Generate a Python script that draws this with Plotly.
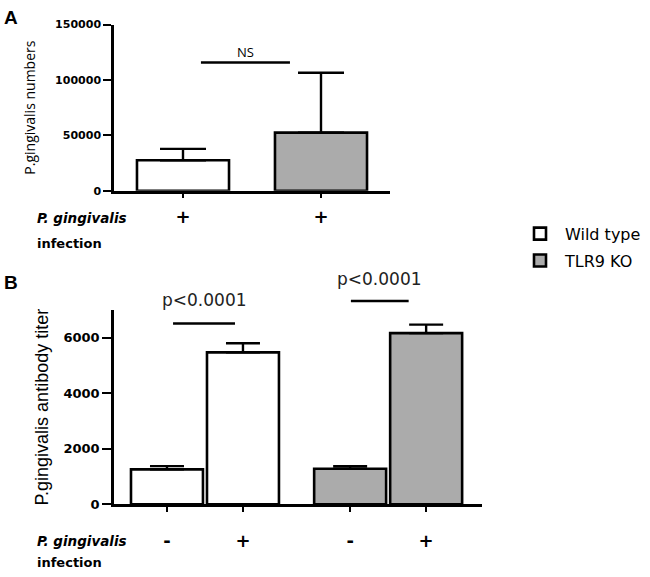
import plotly.graph_objects as go

# ---------------- data ----------------
# Panel A: P. gingivalis numbers
a_groups = ["Wild type", "TLR9 KO"]
a_values = [27500, 52400]
a_errors = [10300, 54100]
a_tick_labels = ["+", "+"]
a_yticks = [0, 50000, 100000, 150000]

# Panel B: antibody titer (infection -, +)
b_wt_values = [1258, 5479]
b_wt_errors = [118, 330]
b_ko_values = [1282, 6173]
b_ko_errors = [95, 306]
b_tick_labels = ["-", "+", "-", "+"]
b_yticks = [0, 2000, 4000, 6000]

# significance annotations (data coordinates)
a_sig = {"label": "NS", "x0": 0.13, "x1": 0.775, "y": 115800, "ty": 125500}
b_sig = [
    {"label": "p<0.0001", "x0": 0.08, "x1": 0.895, "y": 6515, "ty": 7350},
    {"label": "p<0.0001", "x0": 2.42, "x1": 3.18, "y": 7327, "ty": 8140},
]

# ---------------- style ----------------
W, H = 650, 577
GRAY = "#ababab"
EDGE = 2.6
group_gap = 2.41
a_x = [0, 1]
b_wt_x = [0, 1]
b_ko_x = [group_gap, group_gap + 1]

def px_x(p):
    return p / W

def px_y(p):
    return (H - p) / H

A_XDOM = [px_x(114), px_x(390)]
A_YDOM = [px_y(189.3), px_y(19)]
A_XR = [-0.5, 1.5]
A_YR = [0, 150000]
B_XDOM = [px_x(114), px_x(482)]
B_YDOM = [px_y(510.7), px_y(311.7)]
B_XR = [-0.697, 4.145]
B_YR = [0, 7000]

def to_paper(v, dom, rng):
    return dom[0] + (v - rng[0]) / (rng[1] - rng[0]) * (dom[1] - dom[0])

fig = go.Figure()

def err(arr, w):
    return dict(type="data", symmetric=False, array=arr, arrayminus=[0] * len(arr),
                color="black", thickness=2.4, width=w)

# Panel A bars
fig.add_trace(go.Bar(x=[a_x[0]], y=[a_values[0]], error_y=err([a_errors[0]], 23),
                     width=0.667, marker=dict(color="white", line=dict(color="black", width=EDGE)),
                     name=a_groups[0], legendgroup="wt", xaxis="x", yaxis="y"))
fig.add_trace(go.Bar(x=[a_x[1]], y=[a_values[1]], error_y=err([a_errors[1]], 23),
                     width=0.667, marker=dict(color=GRAY, line=dict(color="black", width=EDGE)),
                     name=a_groups[1], legendgroup="ko", xaxis="x", yaxis="y"))
# Panel B bars
fig.add_trace(go.Bar(x=b_wt_x, y=b_wt_values, error_y=err(b_wt_errors, 17),
                     width=0.947, marker=dict(color="white", line=dict(color="black", width=EDGE)),
                     name=a_groups[0], legendgroup="wt", showlegend=False, xaxis="x2", yaxis="y2"))
fig.add_trace(go.Bar(x=b_ko_x, y=b_ko_values, error_y=err(b_ko_errors, 17),
                     width=0.947, marker=dict(color=GRAY, line=dict(color="black", width=EDGE)),
                     name=a_groups[1], legendgroup="ko", showlegend=False, xaxis="x2", yaxis="y2"))

bold_tick = dict(family="DejaVu Sans", weight="bold", color="black")
axis_common = dict(showline=True, linecolor="black", linewidth=2.5, showgrid=False,
                   zeroline=False, ticks="outside", tickcolor="black", tickwidth=2)

fig.update_layout(
    width=W, height=H,
    margin=dict(l=0, r=0, t=0, b=0),
    paper_bgcolor="white", plot_bgcolor="white",
    barmode="overlay",
    xaxis=dict(domain=A_XDOM, anchor="y", range=A_XR,
               tickvals=a_x, ticktext=a_tick_labels, ticklen=5,
               tickfont=dict(bold_tick, size=18), ticklabelstandoff=3, **axis_common),
    yaxis=dict(domain=A_YDOM, anchor="x", range=A_YR, tickformat="d",
               tickvals=a_yticks, ticklen=8, tickfont=dict(bold_tick, size=11),
               title=dict(text="P.gingivalis numbers", standoff=17,
                          font=dict(family="Open Sans", size=14, color="black")),
               **axis_common),
    xaxis2=dict(domain=B_XDOM, anchor="y2", range=B_XR,
                tickvals=b_wt_x + b_ko_x, ticktext=b_tick_labels, ticklen=5,
                tickfont=dict(bold_tick, size=18), ticklabelstandoff=13, **axis_common),
    yaxis2=dict(domain=B_YDOM, anchor="x2", range=B_YR, tickformat="d",
                tickvals=b_yticks, ticklen=9, tickfont=dict(bold_tick, size=13),
                title=dict(text="P.gingivalis antibody titer", standoff=11,
                           font=dict(family="Liberation Sans", size=18, color="black")),
                **axis_common),
    legend=dict(x=px_x(515), y=px_y(216), xanchor="left", yanchor="top",
                font=dict(family="DejaVu Sans", size=16, color="black"),
                itemwidth=40, tracegroupgap=3, bgcolor="rgba(0,0,0,0)"),
    showlegend=True,
)

# significance lines
def sig(s, xdom, xr, ydom, yr, font):
    y = to_paper(s["y"], ydom, yr)
    fig.add_shape(type="line", xref="paper", yref="paper",
                  x0=to_paper(s["x0"], xdom, xr), x1=to_paper(s["x1"], xdom, xr),
                  y0=y, y1=y, line=dict(color="black", width=2.5))
    fig.add_annotation(xref="paper", yref="paper", xanchor="center", yanchor="middle",
                       x=to_paper((s["x0"] + s["x1"]) / 2, xdom, xr),
                       y=to_paper(s["ty"], ydom, yr),
                       text=s["label"], showarrow=False, font=font)

sig(a_sig, A_XDOM, A_XR, A_YDOM, A_YR, dict(family="Open Sans", size=13, color="black"))
for s in b_sig:
    sig(s, B_XDOM, B_XR, B_YDOM, B_YR, dict(family="DejaVu Sans", size=17, color="#222"))

# panel letters
for letter, yc in [("A", 12), ("B", 283)]:
    fig.add_annotation(xref="paper", yref="paper", x=px_x(2), y=px_y(yc), xanchor="left",
                       yanchor="middle", text="<b>%s</b>" % letter, showarrow=False,
                       font=dict(family="Liberation Sans", size=19, color="black"))

# row labels
for yc1, yc2 in [(217, 243), (548, 570)]:
    fig.add_annotation(xref="paper", yref="paper", x=px_x(35), y=px_y(yc1), xanchor="left",
                       yanchor="middle", text="<b><i>P. gingivalis</i></b>", showarrow=False,
                       font=dict(family="DejaVu Sans", size=13.5, color="black"))
    fig.add_annotation(xref="paper", yref="paper", x=px_x(35), y=px_y(yc2), xanchor="left",
                       yanchor="middle", text="<b>infection</b>", showarrow=False,
                       font=dict(family="DejaVu Sans", size=13, color="black"))

fig.write_html("out.html", config={"displayModeBar": False},
               post_script="document.body.style.margin='0';document.body.style.overflow='hidden';")
